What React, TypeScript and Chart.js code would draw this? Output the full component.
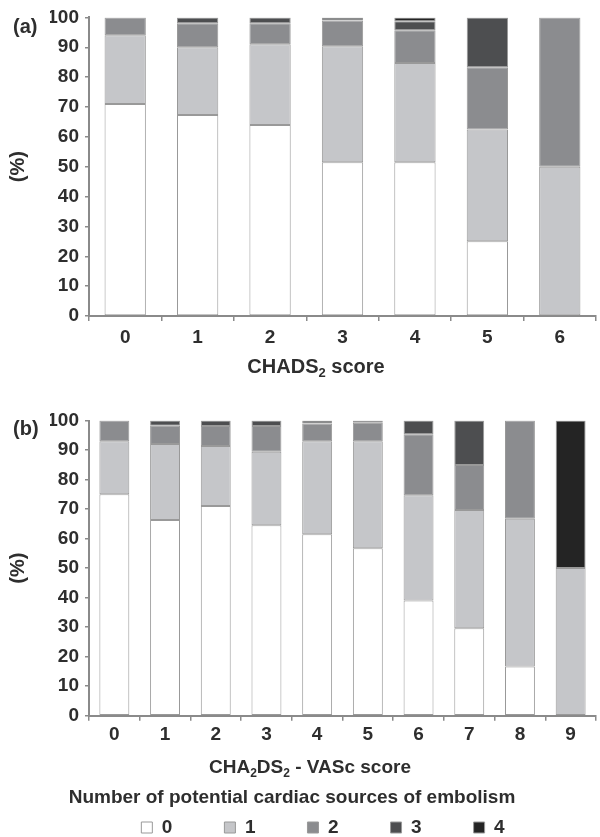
import React, { useEffect, useRef } from 'react';
import { Chart, registerables } from 'chart.js';

Chart.register(...registerables);

// ---- data: chart (a) CHADS2 score ----
const chadsScores = ['0', '1', '2', '3', '4', '5', '6'];
const chadsSources0 = [71, 67.3, 64, 51.5, 51.5, 25, 0];
const chadsSources1 = [23, 22.7, 27, 38.8, 33.2, 37.5, 50];
const chadsSources2 = [6, 8, 7, 8.7, 11, 20.8, 50];
const chadsSources3 = [0, 2, 2, 1, 3, 16.7, 0];
const chadsSources4 = [0, 0, 0, 0, 1.3, 0, 0];

// ---- data: chart (b) CHA2DS2-VASc score ----
const vascScores = ['0', '1', '2', '3', '4', '5', '6', '7', '8', '9'];
const vascSources0 = [75, 66.3, 71, 64.5, 61.5, 56.7, 39, 29.6, 16.7, 0];
const vascSources1 = [18, 25.7, 20.4, 24.9, 31.5, 36.3, 35.7, 40.1, 50, 50];
const vascSources2 = [7, 6.2, 6.7, 8.7, 6, 6.2, 20.6, 15.2, 33.3, 0];
const vascSources3 = [0, 1.8, 1.9, 1.9, 1, 0.8, 4.7, 15.1, 0, 0];
const vascSources4 = [0, 0, 0, 0, 0, 0, 0, 0, 0, 50];

const sourceLabels = ['0', '1', '2', '3', '4'];
const legendTitle = 'Number of potential cardiac sources of embolism';

const FAMILY = '"Liberation Sans", Arial, Helvetica, sans-serif';
const TEXT = '#2e2e2e';
const AXIS = '#8a8a8a';
const segmentColors = ['#ffffff', '#c5c6c9', '#8b8c8f', '#4d4e50', '#242424'];
const PAD_LEFT = 50;

type Part = { t: string; sub?: boolean };

const annotatePlugin = {
  id: 'annotate',
  afterDraw(chart: any, _args: any, opts: any) {
    const ctx = chart.ctx as CanvasRenderingContext2D;
    ctx.save();
    ctx.fillStyle = TEXT;
    ctx.textBaseline = 'middle';
    const size = opts.titleSize || 20;
    const main = `bold ${size}px ${FAMILY}`;
    const sub = `bold ${Math.round(size * 0.65)}px ${FAMILY}`;
    const parts: Part[] = opts.parts || [];
    let w = 0;
    for (const p of parts) {
      ctx.font = p.sub ? sub : main;
      w += ctx.measureText(p.t).width;
    }
    let x = opts.titleX - w / 2;
    ctx.textAlign = 'left';
    for (const p of parts) {
      ctx.font = p.sub ? sub : main;
      ctx.fillText(p.t, x, p.sub ? opts.titleY + 6 : opts.titleY);
      x += ctx.measureText(p.t).width;
    }
    if (opts.letter) {
      ctx.font = `bold 20px ${FAMILY}`;
      ctx.fillText(opts.letter, opts.letterX, opts.letterY);
    }
    if (opts.legendTitle) {
      ctx.font = `bold 19px ${FAMILY}`;
      ctx.textAlign = 'center';
      ctx.fillText(opts.legendTitle, opts.legendTitleX, opts.legendTitleY);
    }
    ctx.restore();
  },
};

function buildDatasets(series: number[][], barPct: number) {
  return series.map((vals, i) => ({
    label: sourceLabels[i],
    data: vals.map((v) => (v === 0 ? null : v)),
    backgroundColor: segmentColors[i],
    borderColor: '#999999',
    borderWidth: 1,
    borderSkipped: false as const,
    barPercentage: barPct,
    categoryPercentage: 1,
  }));
}

function makeConfig(o: {
  labels: string[];
  series: number[][];
  barPct: number;
  padTop: number;
  xHeight: number;
  xPad: number;
  legend: boolean;
  parts: Part[];
  titleSize: number;
  titleX: number;
  titleY: number;
  letter: string;
  letterX: number;
  letterY: number;
  legendTitle?: string;
}): any {
  return {
    type: 'bar',
    data: { labels: o.labels, datasets: buildDatasets(o.series, o.barPct) },
    plugins: [annotatePlugin],
    options: {
      responsive: false,
      animation: false,
      layout: { padding: { top: o.padTop, left: PAD_LEFT, right: 4, bottom: 0 } },
      plugins: {
        tooltip: { enabled: false },
        annotate: {
          parts: o.parts,
          titleSize: o.titleSize,
          titleX: o.titleX,
          titleY: o.titleY,
          letter: o.letter,
          letterX: o.letterX,
          letterY: o.letterY,
          legendTitle: o.legendTitle,
          legendTitleX: 292,
          legendTitleY: 398,
        },
        legend: {
          display: o.legend,
          position: 'bottom',
          fullSize: true,
          labels: {
            boxWidth: 11,
            boxHeight: 11,
            padding: 52,
            color: TEXT,
            font: { family: FAMILY, size: 19, weight: 'bold' },
          },
        },
      },
      scales: {
        x: {
          stacked: true,
          afterFit: (s: any) => {
            s.height = o.xHeight;
          },
          grid: {
            offset: true,
            drawOnChartArea: false,
            drawTicks: true,
            tickLength: 5,
            color: AXIS,
            lineWidth: 1.5,
          },
          border: { display: true, color: AXIS, width: 2 },
          ticks: {
            color: TEXT,
            padding: o.xPad,
            font: { family: FAMILY, size: 19, weight: 'bold' },
          },
        },
        y: {
          stacked: true,
          min: 0,
          max: 100,
          afterFit: (s: any) => {
            s.width = 89 - PAD_LEFT;
          },
          grid: {
            drawOnChartArea: false,
            drawTicks: true,
            tickLength: 4,
            color: AXIS,
            lineWidth: 1.5,
          },
          border: { display: true, color: AXIS, width: 2 },
          ticks: {
            stepSize: 10,
            color: TEXT,
            padding: 6,
            font: { family: FAMILY, size: 19, weight: 'bold' },
          },
          title: {
            display: true,
            text: '(%)',
            color: TEXT,
            font: { family: FAMILY, size: 20, weight: 'bold' },
            padding: { top: 18 - 12 - PAD_LEFT, bottom: 0 },
          },
        },
      },
    },
  };
}

export default function App() {
  const refA = useRef<HTMLCanvasElement | null>(null);
  const refB = useRef<HTMLCanvasElement | null>(null);

  useEffect(() => {
    if (!refA.current || !refB.current) return;
    const a = new Chart(
      refA.current,
      makeConfig({
        labels: chadsScores,
        series: [chadsSources0, chadsSources1, chadsSources2, chadsSources3, chadsSources4],
        barPct: 0.57,
        padTop: 16,
        xHeight: 84,
        xPad: 5.6,
        legend: false,
        parts: [{ t: 'CHADS' }, { t: '2', sub: true }, { t: ' score' }],
        titleSize: 20,
        titleX: 316,
        titleY: 367,
        letter: '(a)',
        letterX: 13,
        letterY: 27,
      })
    );
    const b = new Chart(
      refB.current,
      makeConfig({
        labels: vascScores,
        series: [vascSources0, vascSources1, vascSources2, vascSources3, vascSources4],
        barPct: 0.59,
        padTop: 20.5,
        xHeight: 50.3,
        xPad: 3,
        legend: true,
        parts: [
          { t: 'CHA' },
          { t: '2', sub: true },
          { t: 'DS' },
          { t: '2', sub: true },
          { t: ' - VASc score' },
        ],
        titleSize: 19,
        titleX: 310,
        titleY: 368,
        letter: '(b)',
        letterX: 13,
        letterY: 29,
        legendTitle,
      })
    );
    return () => {
      a.destroy();
      b.destroy();
    };
  }, []);

  return (
    <div
      style={{
        position: 'fixed',
        top: 0,
        left: 0,
        width: 600,
        height: 837,
        overflow: 'hidden',
        background: '#ffffff',
      }}
    >
      <canvas
        ref={refA}
        width={600}
        height={400}
        style={{ position: 'absolute', top: 0, left: 0, display: 'block' }}
      />
      <canvas
        ref={refB}
        width={600}
        height={447}
        style={{ position: 'absolute', top: 400, left: 0, display: 'block' }}
      />
    </div>
  );
}
